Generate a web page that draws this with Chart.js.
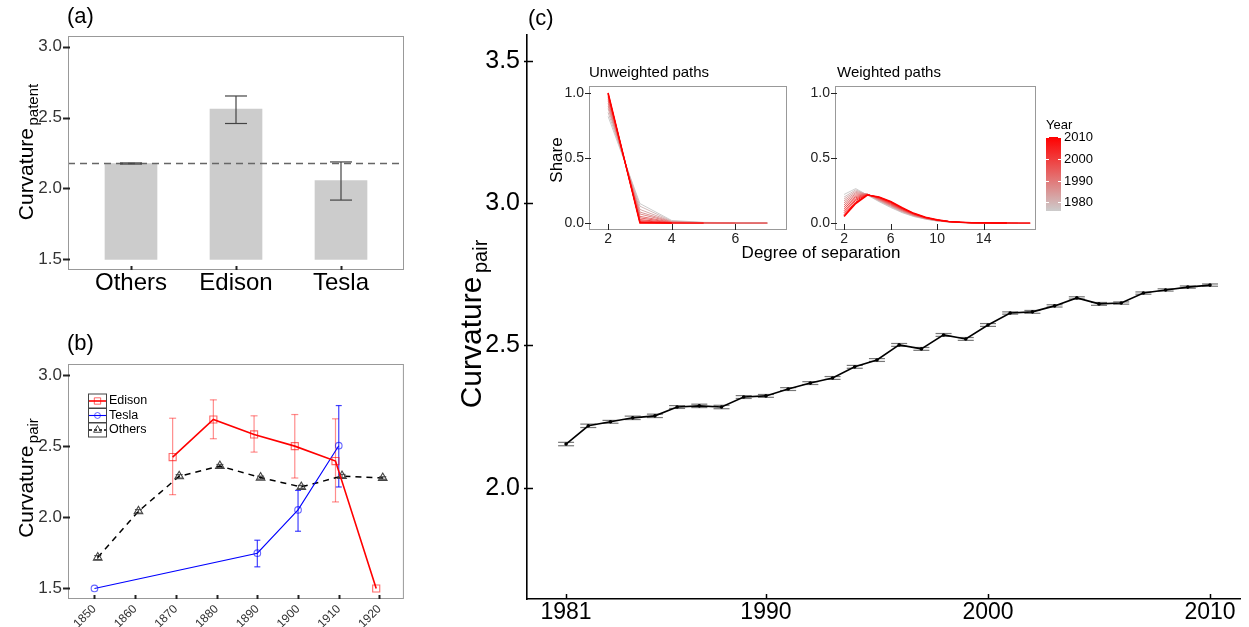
<!DOCTYPE html>
<html>
<head>
<meta charset="utf-8">
<title>Curvature</title>
<script src="https://cdn.jsdelivr.net/npm/chart.js@4.4.1/dist/chart.umd.min.js"></script>
<style>
  body { margin: 0; background: #fff; }
  #page { position: relative; width: 1249px; height: 627px; overflow: hidden; }
  canvas { position: absolute; }
</style>
</head>
<body>
<div id="page">
  <canvas id="chartA" width="410" height="312" style="left:0;top:0"></canvas>
  <canvas id="chartB" width="410" height="307" style="left:0;top:320px"></canvas>
  <canvas id="chartC" width="829" height="627" style="left:420px;top:0"></canvas>
  <canvas id="insetU" width="250" height="190" style="left:545px;top:60px"></canvas>
  <canvas id="insetW" width="250" height="190" style="left:795px;top:60px"></canvas>
</div>
<script>
const FONT = "'Liberation Sans', Arial, sans-serif";
Chart.defaults.font.family = FONT;
Chart.defaults.color = "#333";
Chart.defaults.animation = false;

/* ---------- DATA ---------- */
// (a) patent curvature by inventor group
const aCats = ["Others", "Edison", "Tesla"];
const aMeans = [2.176, 2.559, 2.056];
const aLow = [2.172, 2.458, 1.918];
const aHigh = [2.180, 2.652, 2.187];
const aBase = 1.5;
const aRefLine = 2.176;
const aYTicks = [1.5, 2.0, 2.5, 3.0];

// (b) pair curvature by decade
const bXTicks = [1850, 1860, 1870, 1880, 1890, 1900, 1910, 1920];
const bYTicks = [1.5, 2.0, 2.5, 3.0];
const edisonYears = [1870, 1880, 1890, 1900, 1910, 1920];
const edisonVals = [2.423, 2.687, 2.582, 2.500, 2.395, 1.500];
const edisonLow = [2.159, 2.552, 2.458, 2.276, 2.108, null];
const edisonHigh = [2.696, 2.825, 2.713, 2.722, 2.692, null];
const teslaYears = [1850, 1890, 1900, 1910];
const teslaVals = [1.500, 1.748, 2.052, 2.503];
const teslaLow = [null, 1.652, 1.902, 2.213];
const teslaHigh = [null, 1.839, 2.189, 2.785];
const othersYears = [1850, 1860, 1870, 1880, 1890, 1900, 1910, 1920];
const othersVals = [1.717, 2.042, 2.288, 2.360, 2.279, 2.213, 2.290, 2.276];
const othersLow = [1.703, 2.030, 2.276, 2.349, 2.269, 2.202, 2.279, 2.267];
const othersHigh = [1.731, 2.054, 2.300, 2.371, 2.289, 2.224, 2.301, 2.285];

// (c) pair curvature by year
const cYears = [1981, 1982, 1983, 1984, 1985, 1986, 1987, 1988, 1989, 1990,
  1991, 1992, 1993, 1994, 1995, 1996, 1997, 1998, 1999, 2000,
  2001, 2002, 2003, 2004, 2005, 2006, 2007, 2008, 2009, 2010];
const cVals = [2.154, 2.218, 2.232, 2.246, 2.253, 2.284, 2.288, 2.284, 2.319, 2.323,
  2.347, 2.368, 2.386, 2.425, 2.449, 2.502, 2.488, 2.537, 2.523, 2.572,
  2.614, 2.618, 2.639, 2.667, 2.646, 2.649, 2.684, 2.695, 2.705, 2.712];
const cErr = [0.006, 0.006, 0.005, 0.006, 0.006, 0.005, 0.006, 0.006, 0.005, 0.005,
  0.005, 0.005, 0.005, 0.005, 0.005, 0.005, 0.005, 0.005, 0.005, 0.005,
  0.004, 0.005, 0.004, 0.004, 0.005, 0.004, 0.004, 0.004, 0.004, 0.004];
const cXTicks = [1981, 1990, 2000, 2010];
const cYTicks = [2.0, 2.5, 3.0, 3.5];

// inset: unweighted paths (share by degree of separation, one row per year)
const unwDegrees = [2, 3, 4, 5, 6, 7];
const unwYears = [1976, 1979, 1982, 1985, 1988, 1991, 1994, 1997, 2000, 2003, 2006, 2008, 2010];
const unwShare = [
  [0.82, 0.150, 0.020, 0.006, 0.003, 0.002],
  [0.85, 0.130, 0.015, 0.004, 0.002, 0.001],
  [0.88, 0.105, 0.012, 0.003, 0.001, 0.001],
  [0.90, 0.085, 0.010, 0.003, 0.001, 0.000],
  [0.92, 0.070, 0.008, 0.002, 0.001, 0.000],
  [0.94, 0.052, 0.006, 0.002, 0.000, 0.000],
  [0.955, 0.040, 0.004, 0.001, 0.000, 0.000],
  [0.97, 0.027, 0.003, 0.001, 0.000],
  [0.98, 0.018, 0.002, 0.000],
  [0.988, 0.011, 0.001, 0.000],
  [0.994, 0.006, 0.000, 0.000],
  [0.997, 0.003, 0.000],
  [1.0, 0.001, 0.000]
];

// inset: weighted paths
const wDegrees = [2, 3, 4, 5, 6, 7, 8, 9, 10, 11, 12, 13, 14, 15, 16, 17, 18];
const wYears = [1976, 1979, 1982, 1985, 1988, 1991, 1994, 1997, 2000, 2003, 2006, 2008, 2010];
const wShare = [
  [0.220, 0.265, 0.215, 0.165, 0.120, 0.080, 0.050, 0.030, 0.016, 0.008, 0.004, 0.002, 0.001, 0.000],
  [0.200, 0.255, 0.218, 0.170, 0.125, 0.084, 0.053, 0.032, 0.017, 0.009, 0.004, 0.002, 0.001, 0.000],
  [0.185, 0.245, 0.220, 0.173, 0.130, 0.088, 0.056, 0.033, 0.018, 0.009, 0.005, 0.002, 0.001, 0.000, 0.000],
  [0.170, 0.235, 0.222, 0.177, 0.134, 0.092, 0.058, 0.035, 0.019, 0.010, 0.005, 0.002, 0.001, 0.000, 0.000],
  [0.155, 0.225, 0.222, 0.180, 0.138, 0.095, 0.060, 0.036, 0.020, 0.010, 0.005, 0.003, 0.001, 0.001, 0.000],
  [0.140, 0.215, 0.222, 0.184, 0.142, 0.099, 0.062, 0.037, 0.021, 0.011, 0.005, 0.003, 0.001, 0.001, 0.000, 0.000],
  [0.125, 0.205, 0.221, 0.187, 0.146, 0.102, 0.065, 0.039, 0.022, 0.011, 0.006, 0.003, 0.001, 0.001, 0.000, 0.000],
  [0.110, 0.195, 0.220, 0.190, 0.150, 0.105, 0.067, 0.040, 0.022, 0.012, 0.006, 0.003, 0.002, 0.001, 0.000, 0.000, 0.000],
  [0.095, 0.185, 0.219, 0.193, 0.154, 0.108, 0.069, 0.041, 0.023, 0.012, 0.006, 0.003, 0.002, 0.001, 0.001, 0.000, 0.000],
  [0.080, 0.175, 0.218, 0.196, 0.158, 0.111, 0.071, 0.042, 0.023, 0.012, 0.006, 0.003, 0.002, 0.001, 0.001, 0.000, 0.000],
  [0.065, 0.163, 0.217, 0.198, 0.162, 0.114, 0.073, 0.043, 0.024, 0.012, 0.006, 0.003, 0.002, 0.001, 0.001, 0.000, 0.000],
  [0.057, 0.157, 0.216, 0.199, 0.164, 0.116, 0.074, 0.044, 0.024, 0.012, 0.006, 0.003, 0.002, 0.001, 0.000],
  [0.050, 0.150, 0.215, 0.200, 0.166, 0.118, 0.075, 0.045, 0.025, 0.013, 0.006, 0.003, 0.002, 0.001, 0.000]
];
const shareTicks = [0, 0.5, 1.0];
const unwXTicks = [2, 4, 6];
const wXTicks = [2, 6, 10, 14];
const legendYears = [1980, 1990, 2000, 2010];
const yearMin = 1976;
const yearMax = 2010;

/* ---------- HELPERS ---------- */
function yearColor(yr) {
  const t = Math.max(0, Math.min(1, (yr - yearMin) / (yearMax - yearMin)));
  const r = Math.round(204 + 51 * t);
  const gb = Math.round(204 * (1 - t));
  return "rgb(" + r + "," + gb + "," + gb + ")";
}

// linear axis with fixed ticks and a fixed thickness, so every chart area lands where we want
function axis(min, max, ticks, size, fontSize, opts) {
  opts = opts || {};
  return {
    type: "linear",
    min: min,
    max: max,
    offset: false,
    grid: { display: false, drawTicks: false, offset: false },
    border: { display: false },
    afterBuildTicks: (s) => { s.ticks = ticks.map((v) => ({ value: v })); },
    afterFit: (s) => { if (s.isHorizontal()) s.height = size; else s.width = size; },
    ticks: {
      font: { size: fontSize },
      color: opts.color || "#333",
      padding: opts.padding !== undefined ? opts.padding : 4,
      autoSkip: false,
      minRotation: opts.rotation || 0,
      maxRotation: opts.rotation || 0,
      callback: opts.fmt || ((v) => v.toFixed(1)),
    },
  };
}

function line(ctx, x1, y1, x2, y2) {
  ctx.beginPath();
  ctx.moveTo(x1, y1);
  ctx.lineTo(x2, y2);
  ctx.stroke();
}

function frame(chart, color) {
  const a = chart.chartArea;
  const ctx = chart.ctx;
  ctx.save();
  ctx.strokeStyle = color;
  ctx.lineWidth = 1;
  ctx.strokeRect(a.left + 0.5, a.top + 0.5, a.right - a.left - 1, a.bottom - a.top - 1);
  ctx.restore();
}

// short tick marks: x ticks go into the panel, y ticks cross the left edge
function tickMarks(chart, o) {
  const { ctx, chartArea: a, scales } = chart;
  ctx.save();
  ctx.strokeStyle = o.color;
  ctx.lineWidth = o.width;
  scales.x.ticks.forEach((t) => {
    const px = Math.round(scales.x.getPixelForValue(t.value)) + 0.5;
    line(ctx, px, a.bottom + o.xOut, px, a.bottom - o.xIn);
  });
  scales.y.ticks.forEach((t) => {
    const py = Math.round(scales.y.getPixelForValue(t.value)) + 0.5;
    line(ctx, a.left - o.yOut, py, a.left + o.yIn, py);
  });
  ctx.restore();
}

function label(ctx, str, x, y, size, align, color, baseline) {
  ctx.save();
  ctx.font = size + "px " + FONT;
  ctx.fillStyle = color || "#000";
  ctx.textAlign = align || "left";
  ctx.textBaseline = baseline || "middle";
  ctx.fillText(str, x, y);
  ctx.restore();
}

// rotated axis title with a subscript, (x, y) = centre of the baseline
function subTitle(ctx, x, y, main, sub, size, subSize) {
  ctx.save();
  ctx.translate(x, y);
  ctx.rotate(-Math.PI / 2);
  ctx.font = size + "px " + FONT;
  const w1 = ctx.measureText(main).width;
  ctx.font = subSize + "px " + FONT;
  const w2 = ctx.measureText(sub).width;
  const gap = size * 0.12;
  const x0 = -(w1 + gap + w2) / 2;
  ctx.fillStyle = "#000";
  ctx.textBaseline = "alphabetic";
  ctx.font = size + "px " + FONT;
  ctx.fillText(main, x0, 0);
  ctx.font = subSize + "px " + FONT;
  ctx.fillText(sub, x0 + w1 + gap, subSize * 0.3);
  ctx.restore();
}

function errorBar(ctx, xs, ys, x, lo, hi, cap, color, width, capColor) {
  if (lo === null || hi === null) return;
  const px = xs.getPixelForValue(x);
  const pl = ys.getPixelForValue(lo);
  const ph = ys.getPixelForValue(hi);
  ctx.strokeStyle = color;
  ctx.lineWidth = width;
  line(ctx, px, pl, px, ph);
  ctx.strokeStyle = capColor || color;
  line(ctx, px - cap, pl, px + cap, pl);
  line(ctx, px - cap, ph, px + cap, ph);
}

/* ---------- (a) BAR CHART ---------- */
new Chart(document.getElementById("chartA"), {
  type: "bar",
  data: {
    datasets: [{
      data: aCats.map((c, i) => ({ x: i + 1, y: [aBase, aMeans[i]] })),
      backgroundColor: "#cccccc",
      borderWidth: 0,
      barThickness: 52,
    }],
  },
  options: {
    responsive: false,
    layout: { padding: { top: 36, right: 6, left: 0, bottom: 0 } },
    plugins: { legend: { display: false }, tooltip: { enabled: false } },
    scales: {
      x: axis(0.4, 3.6, [1, 2, 3], 42, 24, { color: "#000", padding: -1, fmt: (v) => aCats[v - 1] }),
      y: axis(1.425, 3.075, aYTicks, 68, 17, { padding: 6 }),
    },
  },
  plugins: [{
    id: "panelA",
    afterDatasetsDraw(chart) {
      const { ctx, chartArea: a, scales: { x, y } } = chart;
      ctx.save();
      ctx.setLineDash([7, 5]);
      ctx.strokeStyle = "#666";
      ctx.lineWidth = 1.4;
      const ry = y.getPixelForValue(aRefLine);
      line(ctx, a.left, ry, a.right, ry);
      ctx.setLineDash([]);
      aCats.forEach((c, i) => errorBar(ctx, x, y, i + 1, aLow[i], aHigh[i], 11, "#444", 1.2));
      ctx.restore();
    },
    afterDraw(chart) {
      frame(chart, "#999");
      tickMarks(chart, { color: "#222", width: 2, xIn: 4, xOut: 0, yOut: 5, yIn: 2 });
      subTitle(chart.ctx, 33, 152, "Curvature", "patent", 21, 15);
      label(chart.ctx, "(a)", 67, 17, 22);
    },
  }],
});

/* ---------- (b) LINES BY DECADE ---------- */
const bDodge = { edison: -0.8, tesla: 0, others: 0.8 };
const bSeries = [
  { name: "Edison", years: edisonYears, vals: edisonVals, lo: edisonLow, hi: edisonHigh, dodge: bDodge.edison,
    line: "#ff0000", lw: 1.6, dash: [], marker: "rect", r: 5, mk: "rgba(255,0,0,0.6)", err: "rgba(255,0,0,0.45)", cap: 3.5 },
  { name: "Tesla", years: teslaYears, vals: teslaVals, lo: teslaLow, hi: teslaHigh, dodge: bDodge.tesla,
    line: "#0000ff", lw: 1.1, dash: [], marker: "circle", r: 3.3, mk: "rgba(0,0,255,0.6)", err: "rgba(0,0,255,0.75)", cap: 3 },
  { name: "Others", years: othersYears, vals: othersVals, lo: othersLow, hi: othersHigh, dodge: bDodge.others,
    line: "#000000", lw: 1.5, dash: [6, 5], marker: "triangle", r: 5, mk: "#444", err: "#555", cap: 3.5 },
];

new Chart(document.getElementById("chartB"), {
  type: "line",
  data: {
    datasets: bSeries.map((s) => ({
      label: s.name,
      data: s.years.map((yr, i) => ({ x: yr + s.dodge, y: s.vals[i] })),
      borderColor: s.line,
      borderWidth: s.lw,
      borderDash: s.dash,
      tension: 0,
      pointStyle: s.marker,
      pointRadius: s.r,
      pointBorderColor: s.mk,
      pointBackgroundColor: "rgba(0,0,0,0)",
      pointBorderWidth: 1.1,
    })),
  },
  options: {
    responsive: false,
    layout: { padding: { top: 44, right: 6, left: 0, bottom: 0 } },
    plugins: { legend: { display: false }, tooltip: { enabled: false } },
    scales: {
      x: axis(1843.5, 1926, bXTicks, 28, 12, { rotation: 45, padding: 3, fmt: (v) => String(v) }),
      y: axis(1.426, 3.077, bYTicks, 68, 17, { padding: 6 }),
    },
  },
  plugins: [{
    id: "panelB",
    beforeDatasetsDraw(chart) {
      const { ctx, scales: { x, y } } = chart;
      ctx.save();
      bSeries.forEach((s) => {
        s.years.forEach((yr, i) => errorBar(ctx, x, y, yr + s.dodge, s.lo[i], s.hi[i], s.cap, s.err, 1.2));
      });
      ctx.restore();
    },
    afterDraw(chart) {
      const ctx = chart.ctx;
      frame(chart, "#999");
      tickMarks(chart, { color: "#222", width: 2, xIn: 4, xOut: 0, yOut: 5, yIn: 2 });
      subTitle(ctx, 33, 158, "Curvature", "pair", 21, 15);
      label(ctx, "(b)", 67, 24, 22);
      // legend
      ctx.save();
      bSeries.forEach((s, k) => {
        const cy = 81 + k * 14.5;
        ctx.strokeStyle = "#444";
        ctx.lineWidth = 1;
        ctx.strokeRect(88.5, cy - 7, 18, 14);
        ctx.strokeStyle = s.line;
        ctx.lineWidth = s.lw;
        ctx.setLineDash(s.dash.length ? [3, 2] : []);
        line(ctx, 89, cy, 106, cy);
        ctx.setLineDash([]);
        ctx.fillStyle = "rgba(0,0,0,0)";
        ctx.strokeStyle = s.mk;
        ctx.lineWidth = 1;
        Chart.helpers.drawPoint(ctx, { pointStyle: s.marker, radius: s.r * 0.9, borderWidth: 1 }, 97.5, cy);
        label(ctx, s.name, 109, cy, 12.5);
      });
      ctx.restore();
    },
  }],
});

/* ---------- (c) YEARLY CURVATURE ---------- */
new Chart(document.getElementById("chartC"), {
  type: "line",
  data: {
    datasets: [{
      data: cYears.map((yr, i) => ({ x: yr, y: cVals[i] })),
      borderColor: "#000",
      borderWidth: 1.6,
      tension: 0,
      pointRadius: 1.8,
      pointBackgroundColor: "#000",
      pointBorderWidth: 0,
    }],
  },
  options: {
    responsive: false,
    layout: { padding: { top: 35, right: 9, left: 0, bottom: 0 } },
    plugins: { legend: { display: false }, tooltip: { enabled: false } },
    scales: {
      x: Object.assign(axis(1979.24, 2011.35, cXTicks, 28, 23, { color: "#000", padding: 0, fmt: (v) => String(v) }),
        { border: { display: true, color: "#000", width: 1.6 } }),
      y: Object.assign(axis(1.61, 3.59, cYTicks, 107, 25, { color: "#000", padding: 7 }),
        { border: { display: true, color: "#000", width: 1.6 } }),
    },
  },
  plugins: [{
    id: "panelC",
    beforeDatasetsDraw(chart) {
      const { ctx, scales: { x, y } } = chart;
      ctx.save();
      cYears.forEach((yr, i) => errorBar(ctx, x, y, yr, cVals[i] - cErr[i], cVals[i] + cErr[i], 8, "#000", 1.2, "#777"));
      ctx.restore();
    },
    afterDraw(chart) {
      const ctx = chart.ctx;
      tickMarks(chart, { color: "#000", width: 1.5, xIn: 5, xOut: 0, yOut: 3, yIn: 6 });
      subTitle(ctx, 61, 324, "Curvature", "pair", 30, 20);
      label(ctx, "(c)", 108, 19, 22);
      // inset texts
      label(ctx, "Unweighted paths", 169, 73, 15);
      label(ctx, "Weighted paths", 417, 73, 15);
      label(ctx, "Degree of separation", 401, 253, 17, "center");
      ctx.save();
      ctx.translate(142, 160);
      ctx.rotate(-Math.PI / 2);
      label(ctx, "Share", 0, 0, 17, "center", "#000", "alphabetic");
      ctx.restore();
      // year colour bar
      const bx = 626, bw = 15, top = 137, bottom = 211;
      const yPix = (yr) => bottom - (yr - yearMin) / (yearMax - yearMin) * (bottom - top);
      const grad = ctx.createLinearGradient(0, bottom, 0, top);
      grad.addColorStop(0, yearColor(yearMin));
      grad.addColorStop(0.5, yearColor((yearMin + yearMax) / 2));
      grad.addColorStop(1, yearColor(yearMax));
      ctx.save();
      ctx.fillStyle = grad;
      ctx.fillRect(bx, top, bw, bottom - top);
      ctx.strokeStyle = "#fff";
      ctx.lineWidth = 1;
      legendYears.forEach((yr) => {
        const py = Math.round(yPix(yr)) + 0.5;
        line(ctx, bx, py, bx + 3, py);
        line(ctx, bx + bw - 3, py, bx + bw, py);
        label(ctx, String(yr), bx + bw + 3, py, 13);
      });
      ctx.restore();
      label(ctx, "Year", 626, 125, 13);
    },
  }],
});

/* ---------- INSETS ---------- */
function inset(id, degrees, years, shares, xMin, xMax, xTicks, yWidth, padRight) {
  new Chart(document.getElementById(id), {
    type: "line",
    data: {
      datasets: years.map((yr, k) => ({
        data: shares[k].map((v, j) => ({ x: degrees[j], y: v })),
        borderColor: yearColor(yr),
        borderWidth: yr === yearMax ? 1.5 : 1,
        pointRadius: 0,
        tension: 0,
        order: yearMax - yr,
      })),
    },
    options: {
      responsive: false,
      layout: { padding: { top: 26, right: padRight, left: 0, bottom: 0 } },
      plugins: { legend: { display: false }, tooltip: { enabled: false } },
      scales: {
        x: axis(xMin, xMax, xTicks, 20, 14, { color: "#222", padding: 1, fmt: (v) => String(v) }),
        y: axis(-0.053, 1.053, shareTicks, yWidth, 14, { color: "#222", padding: 5 }),
      },
    },
    plugins: [{
      id: id + "Frame",
      afterDraw(chart) {
        frame(chart, "#999");
        tickMarks(chart, { color: "#222", width: 1, xIn: 6, xOut: 0, yOut: 4, yIn: 2 });
      },
    }],
  });
}

inset("insetU", unwDegrees, unwYears, unwShare, 1.40, 7.62, unwXTicks, 44, 8);
inset("insetW", wDegrees, wYears, wShare, 1.22, 18.5, wXTicks, 40, 9);
</script>
</body>
</html>
